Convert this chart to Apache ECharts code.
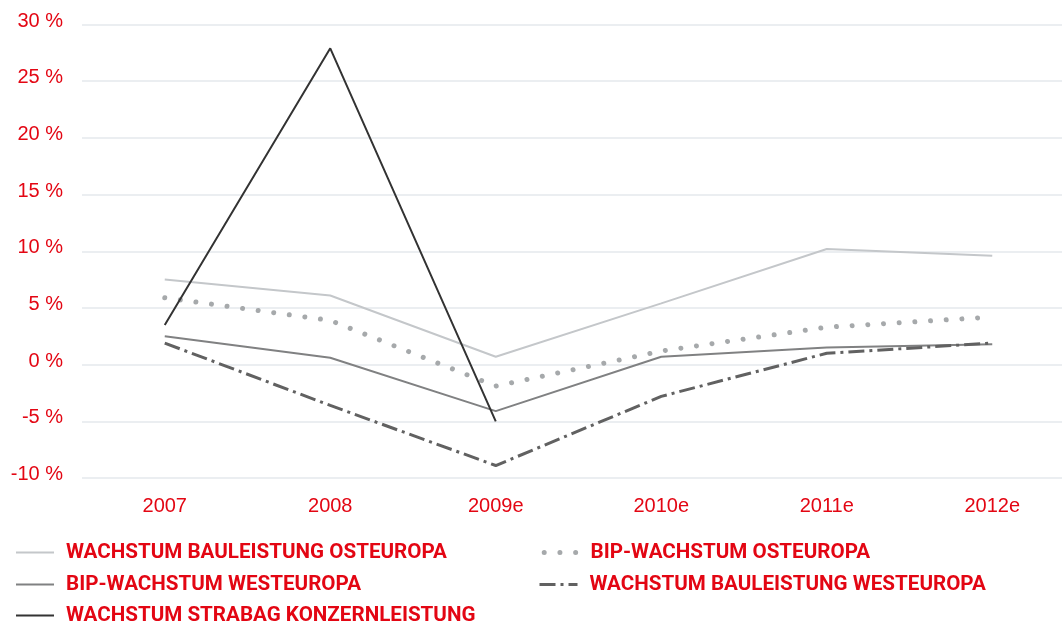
<!DOCTYPE html>
<html>
<head>
<meta charset="utf-8">
<script src="https://cdn.jsdelivr.net/npm/echarts@6/dist/echarts.min.js"></script>
<style>
  html, body { margin: 0; padding: 0; background: #fff; }
  #chart { width: 1062px; height: 626px; }
</style>
</head>
<body>
<div id="chart"></div>
<script>
// Jahre (e = Schätzung)
const years = ['2007', '2008', '2009e', '2010e', '2011e', '2012e'];

// Wachstumsraten in %
const bauleistungOst = [7.5, 6.1, 0.7, 5.4, 10.2, 9.6];
const bipOst = [5.9, 3.9, -1.9, 1.2, 3.3, 4.2];
const bipWest = [2.5, 0.6, -4.1, 0.7, 1.5, 1.8];
const bauleistungWest = [1.9, -3.6, -8.9, -2.8, 1.0, 1.9];
const strabag = [3.5, 27.9, -5.0, null, null, null];

const names = {
  bauOst: 'WACHSTUM BAULEISTUNG OSTEUROPA',
  bipOst: 'BIP-WACHSTUM OSTEUROPA',
  bipWest: 'BIP-WACHSTUM WESTEUROPA',
  bauWest: 'WACHSTUM BAULEISTUNG WESTEUROPA',
  strabag: 'WACHSTUM STRABAG KONZERNLEISTUNG'
};

const RED = '#e30613';
const labelFont = '"Liberation Sans", Arial, sans-serif';
const legendFont = '"Liberation Sans Narrow", "Roboto", "Liberation Sans", sans-serif';

const legendText = {
  color: RED,
  fontFamily: legendFont,
  fontWeight: 'bold',
  fontSize: 20.6,
  lineHeight: 18,
  padding: [0, 0, 0, 7]
};

// legend shows only the line sample, no point marker
const legendItemStyle = { color: 'rgba(0,0,0,0)', borderColor: 'rgba(0,0,0,0)', borderWidth: 0 };

// one legend entry per block so every row sits exactly where it should
function legendEntry(name, left, top, extra) {
  return Object.assign({
    data: [name],
    orient: 'horizontal',
    left: left,
    top: top,
    padding: 0,
    itemWidth: 38,
    itemHeight: 14,
    itemStyle: legendItemStyle,
    textStyle: legendText,
    selectedMode: false
  }, extra || {});
}

const chart = echarts.init(document.getElementById('chart'), null, { renderer: 'canvas' });

chart.setOption({
  animation: false,
  backgroundColor: '#ffffff',
  grid: {
    left: 82, width: 993, top: 24.5, bottom: 148,
    containLabel: false,
    outerBoundsMode: 'none'
  },
  legend: [
    legendEntry(names.bauOst, 15, 542),
    legendEntry(names.bipWest, 15, 574),
    legendEntry(names.strabag, 15, 605),
    legendEntry(names.bipOst, 538, 542, {
      lineStyle: { cap: 'round', width: 5, dashOffset: 12 }
    }),
    legendEntry(names.bauWest, 538, 574, {
      lineStyle: { cap: 'butt', width: 3, dashOffset: 0 }
    })
  ],
  xAxis: {
    type: 'category',
    data: years,
    boundaryGap: true,
    axisLine: { show: false },
    axisTick: { show: false },
    axisLabel: {
      color: RED,
      fontFamily: labelFont,
      fontSize: 20,
      margin: 18
    },
    splitLine: { show: false }
  },
  yAxis: {
    type: 'value',
    min: -10,
    max: 30,
    interval: 5,
    axisLine: { show: false },
    axisTick: { show: false },
    axisLabel: {
      color: RED,
      fontFamily: labelFont,
      fontSize: 20,
      margin: 19,
      verticalAlign: 'bottom',
      lineHeight: 7,
      formatter: v => v + ' %'
    },
    splitLine: { lineStyle: { color: '#e4e8ec', width: 1.5 } }
  },
  series: [
    {
      name: names.bauOst,
      type: 'line',
      data: bauleistungOst,
      symbol: 'none',
      z: 2,
      lineStyle: { color: '#c4c7ca', width: 2 },
      itemStyle: { color: '#c4c7ca' }
    },
    {
      name: names.bipOst,
      type: 'line',
      data: bipOst,
      symbol: 'none',
      z: 3,
      lineStyle: { color: '#a6a9ab', width: 5, type: [0.01, 15.7], cap: 'round' },
      itemStyle: { color: '#a6a9ab' }
    },
    {
      name: names.bipWest,
      type: 'line',
      data: bipWest,
      symbol: 'none',
      z: 4,
      lineStyle: { color: '#808182', width: 2 },
      itemStyle: { color: '#808182' }
    },
    {
      name: names.bauWest,
      type: 'line',
      data: bauleistungWest,
      symbol: 'none',
      z: 5,
      lineStyle: { color: '#616161', width: 3, type: [16, 5, 3, 5], dashOffset: 0 },
      itemStyle: { color: '#616161' }
    },
    {
      name: names.strabag,
      type: 'line',
      data: strabag,
      symbol: 'none',
      z: 6,
      connectNulls: false,
      lineStyle: { color: '#333333', width: 2 },
      itemStyle: { color: '#333333' }
    }
  ]
});
</script>
</body>
</html>
